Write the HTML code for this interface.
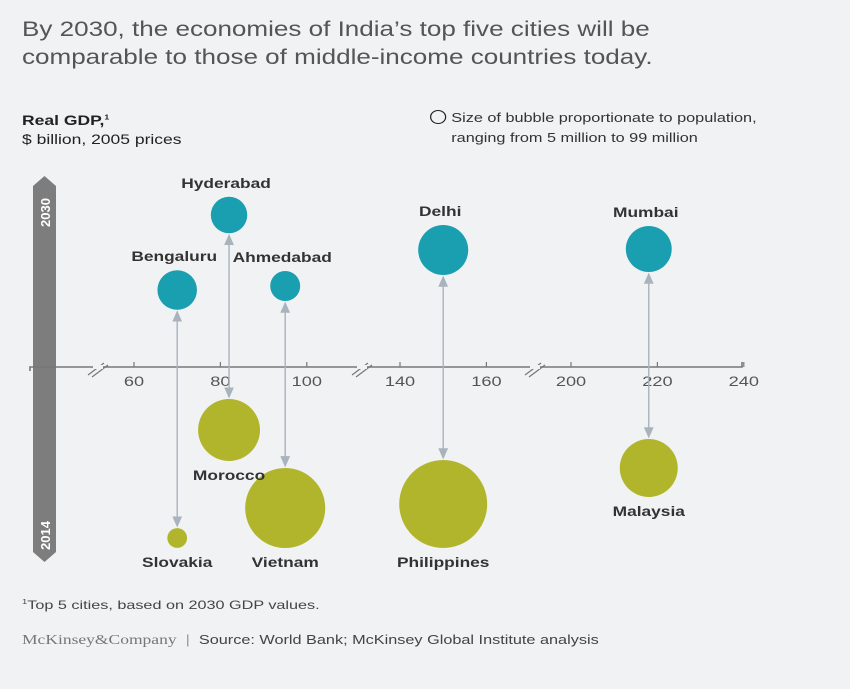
<!DOCTYPE html>
<html><head><meta charset="utf-8"><style>
body{margin:0;background:#f1f2f4;font-family:"Liberation Sans",sans-serif;}
#wrap{position:relative;width:850px;height:689px;overflow:hidden;background:#f1f2f4;}
.t{position:absolute;color:#333;transform-origin:0 0;white-space:nowrap;}
</style></head><body>
<div id="wrap">
<div class="t" style="left:22px;top:16px;font-size:21px;line-height:28px;color:#555;transform:scaleX(1.24);">By 2030, the economies of India’s top five cities will be<br>comparable to those of middle-income countries today.</div>
<div class="t" style="left:22px;top:108px;font-size:14px;line-height:19px;color:#222;transform:scaleX(1.25);"><b>Real GDP,<sup style="font-size:7px">1</sup></b><br>$ billion, 2005 prices</div>
<div class="t" style="left:430px;top:108px;font-size:13px;line-height:20px;color:#333;transform:scaleX(1.25);"><span style="display:inline-block;width:11px;height:12px;border:1.5px solid #222;border-radius:50%;vertical-align:-2px;margin-right:4px;"></span>Size of bubble proportionate to population,<br><span style="margin-left:17px">ranging from 5 million to 99 million</span></div>
<svg id="chart" width="850" height="689" style="position:absolute;left:0;top:0"></svg>
<div class="t" style="left:22px;top:598px;font-size:12px;color:#444;transform:scaleX(1.35);"><sup style="font-size:7px">1</sup>Top 5 cities, based on 2030 GDP values.</div>
<div class="t" style="left:22px;top:632px;font-size:13px;color:#444;transform:scaleX(1.25);"><span style="font-family:'Liberation Serif',serif;color:#777;font-size:14px">McKinsey&amp;Company</span> &nbsp;<span style="color:#999">|</span>&nbsp; Source: World Bank; McKinsey Global Institute analysis</div>
</div>
<script>
const cities=["Bengaluru","Hyderabad","Ahmedabad","Delhi","Mumbai"];
const countries=["Slovakia","Morocco","Vietnam","Philippines","Malaysia"];
const gdp=[70,82,95,150,218];
const cityPop=[20,17,11.5,32,27];
const countryPop=[5,49,82,99,43];
const ticks=[60,80,100,140,160,200,220,240];
const cityY=[290,215,286,250,249];
const countryY=[538,430,508,504,468];
const NS="http://www.w3.org/2000/svg";
const svg=document.getElementById('chart');
const S=4.32;
function xs(v){ if(v<120) return 134+(v-60)*S; if(v<180) return 400+(v-140)*S; return 571+(v-200)*S; }
function rs(p){return 4.42*Math.sqrt(p);}
function mk(t,a,name,inter){const e=document.createElementNS(NS,t);for(const k in a)e.setAttribute(k,a[k]);


svg.appendChild(e);return e;}
function txt(x,y,s,str,name,bold,fill){const t=mk('text',{x:0,y:0,transform:`translate(${x},${y}) scale(${s},1)`,'text-anchor':'middle','font-size':14,'font-weight':bold?'bold':'normal',fill:fill,'font-family':'Liberation Sans'},name,false);t.textContent=str;return t;}
// left time bar
mk('path',{d:'M33,186 L44.5,176 L56,186 L56,552 L44.5,562 L33,552 Z',fill:'#7d7d7d'},'time-bar',false);
let t1=mk('text',{x:0,y:0,transform:'translate(50,227) rotate(-90)','font-size':13,'font-weight':'bold',fill:'#fff','font-family':'Liberation Sans'},'label-2030',false);t1.textContent='2030';
let t2=mk('text',{x:0,y:0,transform:'translate(50,550) rotate(-90)','font-size':13,'font-weight':'bold',fill:'#fff','font-family':'Liberation Sans'},'label-2014',false);t2.textContent='2014';
// axis
const AY=367;
mk('path',{d:`M30,371 L30,${AY} L742,${AY} L742,362`,stroke:'#777','stroke-width':1.6,fill:'none'},'x-axis-line',false);
[100,364,537].forEach(x=>{
mk('path',{d:`M${x-12},${AY+8} L${x+4},${AY-4} M${x-8},${AY+10} L${x+8},${AY-2}`,stroke:'#777','stroke-width':1.2,fill:'none'},'axis-break',false);
mk('rect',{x:x-7,y:AY-2,width:10,height:4,fill:'#f1f2f4'},'axis-break-gap',false);});
ticks.forEach(v=>{const x=xs(v);
mk('line',{x1:x,x2:x,y1:AY,y2:AY-5,stroke:'#777','stroke-width':1.2},'x-tick',false);
txt(x,AY+19,1.3,v,'x-tick-label',false,'#555');});
mk('defs',{},'arrow-defs',false).innerHTML='<marker id="ah" markerWidth="8" markerHeight="8" refX="7" refY="4" orient="auto-start-reverse"><path d="M0,0.5 L8,4 L0,7.5 Z" fill="#a9b3bd"/></marker>';
gdp.forEach((g,i)=>{const x=xs(g);const rc=rs(cityPop[i]),rk=rs(countryPop[i]);
mk('line',{x1:x,x2:x,y1:cityY[i]+rc+2,y2:countryY[i]-rk-2,stroke:'#a9b3bd','stroke-width':1.4,'marker-start':'url(#ah)','marker-end':'url(#ah)'},'connector-'+cities[i].toLowerCase(),false);
mk('circle',{cx:x,cy:cityY[i],r:rc,fill:'#1a9fb0'},'bubble-'+cities[i].toLowerCase(),true);
mk('circle',{cx:x,cy:countryY[i],r:rk,fill:'#b1b52c'},'bubble-'+countries[i].toLowerCase(),true);
});
gdp.forEach((g,i)=>{const x=xs(g);const rc=rs(cityPop[i]),rk=rs(countryPop[i]);
txt(x-3,cityY[i]-rc-9,1.24,cities[i],'label-'+cities[i].toLowerCase(),true,'#333');
txt(x,countryY[i]+rk+19,1.24,countries[i],'label-'+countries[i].toLowerCase(),true,'#333');
});
</script>
</body></html>
